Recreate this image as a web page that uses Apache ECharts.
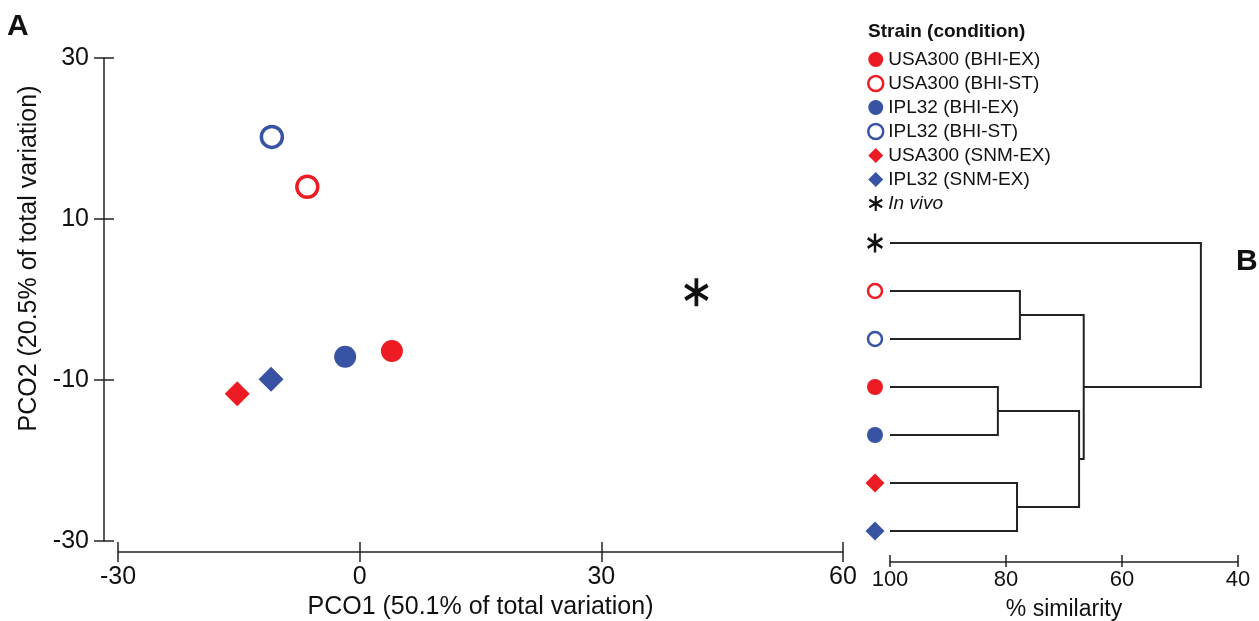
<!DOCTYPE html>
<html>
<head>
<meta charset="utf-8">
<script src="https://cdn.jsdelivr.net/npm/echarts@6/dist/echarts.min.js"></script>
<style>
  html, body { margin: 0; padding: 0; background: #fff; }
  #chart { width: 1259px; height: 621px; }
</style>
</head>
<body>
<div id="chart"></div>
<script>
// panel A: PCO ordination
const strains = ['USA300 (BHI-EX)', 'USA300 (BHI-ST)', 'IPL32 (BHI-EX)', 'IPL32 (BHI-ST)',
  'USA300 (SNM-EX)', 'IPL32 (SNM-EX)', 'In vivo'];
const pco1 = [4.0, -6.5, -1.8, -10.9, -15.2, -11.0, 41.8];
const pco2 = [-6.4, 14.0, -7.1, 20.2, -11.7, -9.9, 0.9];
const pco1Ticks = [-30, 0, 30, 60];
const pco2Ticks = [-30, -10, 10, 30];

// panel B: dendrogram (leaves top to bottom, index into strains)
const leafOrder = [6, 1, 3, 0, 2, 4, 5];
// merges: node ids 0..6 are leaf rows, 7.. are merges in order
const mergeLeft = [1, 3, 5, 8, 7, 0];
const mergeRight = [2, 4, 6, 9, 10, 11];
const mergeSim = [77.6, 81.4, 78.1, 67.4, 66.6, 46.4];
const simTicks = [100, 80, 60, 40];

const RED = '#ed1c24';
const BLUE = '#3953a4';
const FONT = "'Liberation Sans', Arial, sans-serif";
const STAR = 'path://M12 0L16 0L16 28L12 28Z M25.124 5.268L27.124 8.732L2.876 22.732L0.876 19.268Z M0.876 8.732L2.876 5.268L27.124 19.268L25.124 22.732Z';

// marker look for each strain
const looks = [
  { symbol: 'circle', color: RED, hollow: false },
  { symbol: 'circle', color: RED, hollow: true },
  { symbol: 'circle', color: BLUE, hollow: false },
  { symbol: 'circle', color: BLUE, hollow: true },
  { symbol: 'diamond', color: RED, hollow: false },
  { symbol: 'diamond', color: BLUE, hollow: false },
  { symbol: STAR, color: '#111', hollow: false }
];

function markStyle(look, border) {
  return look.hollow
    ? { color: '#fff', borderColor: look.color, borderWidth: border, opacity: 1 }
    : { color: look.color, borderWidth: 0, opacity: 1 };
}

function sizeA(i) {
  if (looks[i].symbol === STAR) return [26, 28];
  if (looks[i].symbol === 'diamond') return 25;
  return looks[i].hollow ? 21 : 22;
}
function sizeB(i) {
  if (looks[i].symbol === STAR) return [17, 19];
  if (looks[i].symbol === 'diamond') return 19;
  return looks[i].hollow ? 14 : 16;
}

const scatterSeries = strains.map((name, i) => ({
  name: name,
  type: 'scatter',
  xAxisIndex: 0,
  yAxisIndex: 0,
  symbol: looks[i].symbol,
  symbolSize: sizeA(i),
  symbolKeepAspect: true,
  itemStyle: markStyle(looks[i], 3.5),
  data: [[pco1[i], pco2[i]]],
  z: 5
}));

// dendrogram node positions
const nodeX = leafOrder.map(() => 100);
const nodeY = leafOrder.map((_, r) => r);
const branches = [];
mergeSim.forEach((h, k) => {
  const a = mergeLeft[k], b = mergeRight[k];
  branches.push({
    coords: [[nodeX[a], nodeY[a]], [h, nodeY[a]], [h, nodeY[b]], [nodeX[b], nodeY[b]]]
  });
  nodeX.push(h);
  nodeY.push((nodeY[a] + nodeY[b]) / 2);
});

const leafData = leafOrder.map((s, r) => ({
  value: [100, r],
  symbol: looks[s].symbol,
  symbolSize: sizeB(s),
  itemStyle: markStyle(looks[s], 2.5)
}));

const axisLine = { show: true, onZero: false, lineStyle: { color: '#222', width: 1.5 } };
const noLine = { show: false, onZero: false };
const tickStyle = { color: '#222', width: 1.5 };
const labelStyle = { color: '#111', fontFamily: FONT };

const legendData = strains.map((name, i) => {
  const item = { name: name, icon: looks[i].symbol, itemStyle: markStyle(looks[i], 2.5) };
  if (looks[i].symbol === STAR) item.textStyle = { fontStyle: 'italic' };
  return item;
});

const chart = echarts.init(document.getElementById('chart'), null, { renderer: 'canvas' });

chart.setOption({
  backgroundColor: '#fff',
  animation: false,
  textStyle: { fontFamily: FONT },
  graphic: [
    { type: 'text', left: 7, top: 12, style: { text: 'A', font: 'bold 30px ' + FONT, fill: '#111' } },
    { type: 'text', left: 1236, top: 247, style: { text: 'B', font: 'bold 30px ' + FONT, fill: '#111' } },
    { type: 'text', left: 868, top: 22, style: { text: 'Strain (condition)', font: 'bold 19px ' + FONT, fill: '#111' } }
  ],
  legend: {
    data: legendData,
    orient: 'vertical',
    left: 867,
    top: 50,
    padding: 0,
    itemWidth: 15,
    itemHeight: 15,
    itemGap: 5,
    selectedMode: false,
    textStyle: { fontSize: 19, color: '#111', fontFamily: FONT }
  },
  grid: [
    { left: 118, right: 416, top: 58, bottom: 80, outerBoundsMode: 'none' },
    { left: 890, right: 21, top: 243, bottom: 90, outerBoundsMode: 'none' }
  ],
  xAxis: [
    {
      gridIndex: 0, type: 'value', min: -30, max: 60, offset: 11,
      name: 'PCO1 (50.1% of total variation)', nameLocation: 'middle', nameGap: 43,
      nameTextStyle: { fontSize: 25, color: '#111', fontFamily: FONT },
      axisLine: axisLine,
      axisTick: { show: true, length: 10, customValues: pco1Ticks, lineStyle: tickStyle },
      axisLabel: { fontSize: 25, margin: 13, customValues: pco1Ticks, ...labelStyle },
      splitLine: { show: false }
    },
    {
      gridIndex: 0, type: 'value', min: -30, max: 60, offset: 11, position: 'bottom',
      axisLine: noLine,
      axisTick: { show: true, inside: true, length: 10, customValues: pco1Ticks, lineStyle: tickStyle },
      axisLabel: { show: false },
      splitLine: { show: false }
    },
    {
      gridIndex: 1, type: 'value', min: 40, max: 100, inverse: true, offset: 31,
      name: '% similarity', nameLocation: 'middle', nameGap: 36,
      nameTextStyle: { fontSize: 23, color: '#111', fontFamily: FONT },
      axisLine: axisLine,
      axisTick: { show: true, length: 5, customValues: simTicks, lineStyle: tickStyle },
      axisLabel: { fontSize: 22, margin: 7, customValues: simTicks, ...labelStyle },
      splitLine: { show: false }
    },
    {
      gridIndex: 1, type: 'value', min: 40, max: 100, inverse: true, offset: 31, position: 'bottom',
      axisLine: noLine,
      axisTick: { show: true, inside: true, length: 7, customValues: simTicks, lineStyle: tickStyle },
      axisLabel: { show: false },
      splitLine: { show: false }
    }
  ],
  yAxis: [
    {
      gridIndex: 0, type: 'value', min: -30, max: 30, offset: 14,
      name: 'PCO2 (20.5% of total variation)', nameLocation: 'middle', nameGap: 62,
      nameTextStyle: { fontSize: 25, color: '#111', fontFamily: FONT, padding: [0, 0, 0, 82] },
      axisLine: axisLine,
      axisTick: { show: true, length: 10, customValues: pco2Ticks, lineStyle: tickStyle },
      axisLabel: { fontSize: 25, margin: 15, customValues: pco2Ticks, ...labelStyle },
      splitLine: { show: false }
    },
    {
      gridIndex: 0, type: 'value', min: -30, max: 30, offset: 14, position: 'left',
      axisLine: noLine,
      axisTick: { show: true, inside: true, length: 10, customValues: pco2Ticks, lineStyle: tickStyle },
      axisLabel: { show: false },
      splitLine: { show: false }
    },
    {
      gridIndex: 1, type: 'value', min: 0, max: 6, inverse: true, show: false,
      axisLine: noLine
    }
  ],
  series: scatterSeries.concat([
    {
      name: 'branches',
      type: 'lines',
      coordinateSystem: 'cartesian2d',
      xAxisIndex: 2,
      yAxisIndex: 2,
      polyline: true,
      silent: true,
      lineStyle: { color: '#222', width: 2, opacity: 1 },
      data: branches
    },
    {
      name: 'leaves',
      type: 'scatter',
      xAxisIndex: 2,
      yAxisIndex: 2,
      clip: false,
      symbolOffset: [-15, 0],
      symbolKeepAspect: true,
      data: leafData
    }
  ])
});
</script>
</body>
</html>
